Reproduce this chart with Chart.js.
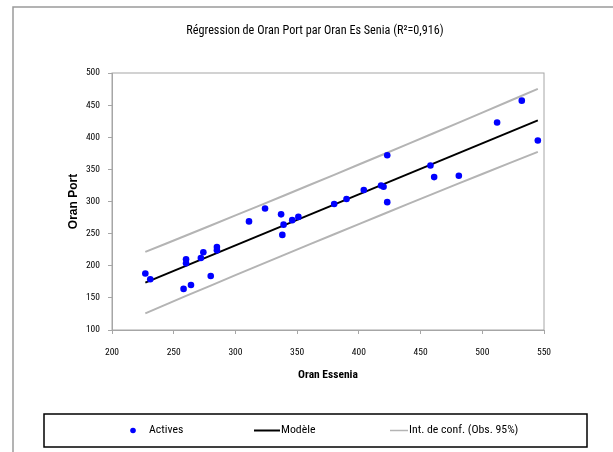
<!DOCTYPE html>
<html>
<head>
<meta charset="utf-8">
<script src="https://cdn.jsdelivr.net/npm/chart.js@4/dist/chart.umd.min.js"></script>
<style>
  body { margin: 0; background: #fff; }
  #wrap { width: 613px; height: 452px; }
</style>
</head>
<body>
<div id="wrap"><canvas id="regChart" width="613" height="452"></canvas></div>
<script>
// Observations (Oran Es Senia vs Oran Port)
const activesX = [227, 231, 258, 264, 260, 260, 272, 274, 280, 285, 285, 311, 324, 337, 339, 338,
                  346, 351, 380, 390, 404, 418, 420, 423, 423, 458, 461, 481, 512, 532, 545];
const activesY = [188, 179, 164, 170, 210, 204, 212, 221, 184, 229, 224, 269, 289, 280, 264, 248,
                  271, 276, 296, 304, 318, 325, 323, 372, 299, 356, 338, 340, 423, 457, 395];

// Regression line (end points)
const modelX = [227, 545];
const modelY = [173.8, 426.3];

// Confidence band for observations (95%)
const bandX = [227, 260, 300, 340, 380, 420, 460, 500, 545];
const bandUpper = [221.6, 247, 278.3, 309.8, 341.5, 373.6, 405.8, 438.4, 475.3];
const bandLower = [126, 153, 185.3, 217.4, 249.1, 280.6, 311.8, 342.8, 377.3];

// Axis ranges
const xMin = 200, xMax = 550, xStep = 50;
const yMin = 100, yMax = 500, yStep = 50;

const chartTitle = 'Régression de Oran Port par Oran Es Senia (R²=0,916)';
const xTitle = 'Oran Essenia';
const yTitle = 'Oran Port';
const legendLabels = ['Actives', 'Modèle', 'Int. de conf. (Obs. 95%)'];

const narrow = "'Roboto Condensed', 'DejaVu Sans Condensed', sans-serif";
const axisGray = '#a6a6a6';
const bandGray = '#b4b4b4';

const toPoints = (xs, ys) => xs.map((x, i) => ({ x, y: ys[i] }));

// Frame, plot border, title and boxed legend
const framePlugin = {
    id: 'frame',
    beforeDraw(chart) {
        const { ctx, chartArea: a } = chart;
        ctx.save();
        ctx.fillStyle = '#fff';
        ctx.fillRect(0, 0, chart.width, chart.height);
        ctx.strokeStyle = '#9a9a9a';
        ctx.lineWidth = 1.5;
        ctx.beginPath();
        ctx.moveTo(13, chart.height + 2);
        ctx.lineTo(13, 7);
        ctx.lineTo(chart.width + 2, 7);
        ctx.stroke();
        ctx.strokeStyle = axisGray;
        ctx.lineWidth = 1;
        ctx.strokeRect(a.left, a.top, a.right - a.left, a.bottom - a.top);
        ctx.restore();
    },
    afterDraw(chart) {
        const ctx = chart.ctx;
        ctx.save();
        ctx.fillStyle = '#000';
        ctx.font = "12.2px " + narrow;
        ctx.textAlign = 'center';
        ctx.textBaseline = 'middle';
        ctx.fillText(chartTitle, 315, 31);

        // legend box
        ctx.strokeStyle = '#000';
        ctx.lineWidth = 1.5;
        ctx.strokeRect(44, 414, 543, 33);
        const cy = 430.5;
        ctx.font = "11.8px " + narrow;
        ctx.textAlign = 'left';
        const ds = chart.data.datasets;
        // Actives
        ctx.fillStyle = ds[0].backgroundColor;
        ctx.beginPath();
        ctx.arc(133, cy, 2.8, 0, Math.PI * 2);
        ctx.fill();
        ctx.fillStyle = '#000';
        ctx.fillText(legendLabels[0], 149, cy);
        // Modèle
        ctx.strokeStyle = ds[1].borderColor;
        ctx.lineWidth = 2;
        ctx.beginPath();
        ctx.moveTo(254, cy);
        ctx.lineTo(280, cy);
        ctx.stroke();
        ctx.fillText(legendLabels[1], 281, cy);
        // Int. de conf.
        ctx.strokeStyle = ds[2].borderColor;
        ctx.lineWidth = 1.5;
        ctx.beginPath();
        ctx.moveTo(390, cy);
        ctx.lineTo(408, cy);
        ctx.stroke();
        ctx.fillText(legendLabels[2], 409, cy);
        ctx.restore();
    }
};

new Chart(document.getElementById('regChart').getContext('2d'), {
    type: 'scatter',
    data: {
        datasets: [
            {
                label: legendLabels[0],
                data: toPoints(activesX, activesY),
                backgroundColor: '#0000ff',
                borderColor: '#0000ff',
                pointRadius: 3.3,
                borderWidth: 0,
                order: 0
            },
            {
                label: legendLabels[1],
                type: 'line',
                data: toPoints(modelX, modelY),
                borderColor: '#000',
                borderWidth: 2,
                pointRadius: 0,
                fill: false,
                order: 1
            },
            {
                label: legendLabels[2],
                type: 'line',
                data: toPoints(bandX, bandUpper),
                borderColor: bandGray,
                borderWidth: 2,
                pointRadius: 0,
                tension: 0.3,
                fill: false,
                order: 2
            },
            {
                label: legendLabels[2],
                type: 'line',
                data: toPoints(bandX, bandLower),
                borderColor: bandGray,
                borderWidth: 2,
                pointRadius: 0,
                tension: 0.3,
                fill: false,
                order: 2
            }
        ]
    },
    options: {
        responsive: false,
        animation: false,
        layout: { padding: { top: 73, left: 64, right: 69, bottom: 62 } },
        plugins: {
            legend: { display: false },
            title: { display: false },
            tooltip: { enabled: false }
        },
        scales: {
            x: {
                type: 'linear',
                min: xMin,
                max: xMax,
                afterFit: (scale) => { scale.height = 60; },
                grid: { drawOnChartArea: false, tickLength: 4, color: axisGray },
                border: { color: axisGray },
                ticks: {
                    stepSize: xStep,
                    padding: 13,
                    color: '#000',
                    font: { family: narrow, size: 9.5 }
                },
                title: {
                    display: true,
                    text: xTitle,
                    color: '#000',
                    padding: { top: 0, bottom: 8 },
                    font: { family: narrow, size: 11.5, weight: 'bold' }
                }
            },
            y: {
                min: yMin,
                max: yMax,
                afterFit: (scale) => { scale.width = 48; },
                grid: { drawOnChartArea: false, tickLength: 4, color: axisGray },
                border: { color: axisGray },
                ticks: {
                    stepSize: yStep,
                    padding: 8,
                    color: '#000',
                    font: { family: narrow, size: 9.5 }
                },
                title: {
                    display: true,
                    text: yTitle,
                    color: '#000',
                    padding: { top: 2, bottom: 0 },
                    font: { family: "'Liberation Sans', Arial, sans-serif", size: 12, weight: 'bold' }
                }
            }
        }
    },
    plugins: [framePlugin]
});
</script>
</body>
</html>
